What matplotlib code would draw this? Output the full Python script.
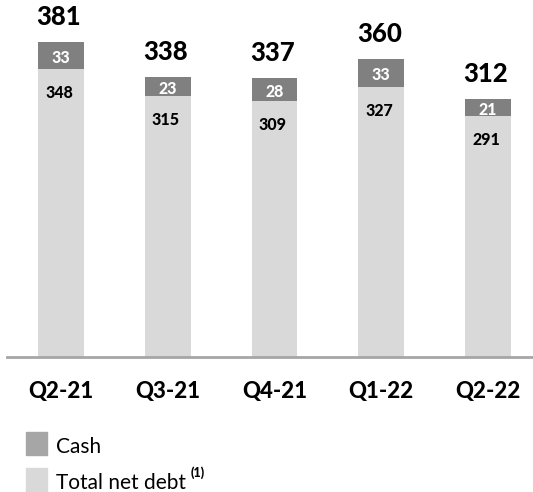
import matplotlib.pyplot as plt
from matplotlib.patches import Rectangle

plt.rcParams['font.family'] = ['Lato', 'DejaVu Sans']

# data
quarters = ['Q2-21', 'Q3-21', 'Q4-21', 'Q1-22', 'Q2-22']
net_debt = [348, 315, 309, 327, 291]
cash = [33, 23, 28, 33, 21]
totals = [381, 338, 337, 360, 312]

DEBT_COLOR = '#d9d9d9'
CASH_COLOR = '#808080'

W, H = 533, 492
fig = plt.figure(figsize=(W / 100, H / 100), dpi=100)

# axes sized so the baseline sits at ~357px from the top
base_px = 357
ax = fig.add_axes([0, (H - base_px) / H, 1, base_px / H])
px_per_unit = 0.827
ax.set_ylim(0, base_px / px_per_unit)
ax.set_xlim(-61 / 106.75, (W - 61) / 106.75)

x = list(range(len(quarters)))
bw = 0.43
ax.bar(x, net_debt, width=bw, color=DEBT_COLOR, zorder=2)
ax.bar(x, cash, width=bw, bottom=net_debt, color=CASH_COLOR, zorder=2)

for i in x:
    # segment labels
    ax.annotate(str(net_debt[i]), (i, net_debt[i]), xytext=(-2, -24),
                textcoords='offset pixels', ha='center', va='center',
                fontsize=11.5, fontweight=900, color='black')
    ax.annotate(str(cash[i]), (i, net_debt[i] + cash[i] / 2), xytext=(0, -2),
                textcoords='offset pixels', ha='center', va='center',
                fontsize=11.5, fontweight=900, color='white')
    # total above bar
    ax.annotate(str(totals[i]), (i, totals[i]), xytext=(-2, 25),
                textcoords='offset pixels', ha='center', va='center',
                fontsize=18.5, fontweight=900, color='black')

for s in ['top', 'right', 'left']:
    ax.spines[s].set_visible(False)
ax.spines['bottom'].set_bounds(-54 / 106.75, (W - 61) / 106.75)
ax.spines['bottom'].set_color('#a6a6a6')
ax.spines['bottom'].set_linewidth(2)
ax.set_yticks([])
ax.set_xticks(x)
ax.set_xticklabels(quarters, fontsize=16, fontweight=900)
ax.tick_params(axis='x', length=0, pad=17)

# legend drawn by hand
fig.add_artist(Rectangle((26 / W, 1 - 455 / H), 21 / W, 23 / H,
                         transform=fig.transFigure, color='#a6a6a6'))
fig.text(56 / W, 1 - 447 / H, 'Cash', fontsize=15, va='center')
fig.add_artist(Rectangle((26 / W, 1 - 492 / H), 21 / W, 24 / H,
                         transform=fig.transFigure, color=DEBT_COLOR))
fig.text(56 / W, 1 - 483 / H, 'Total net debt', fontsize=15, va='center')
fig.text(191 / W, 1 - 473 / H, '(1)', fontsize=9, fontweight=900, va='center')

fig.savefig('out.png', dpi=100)
